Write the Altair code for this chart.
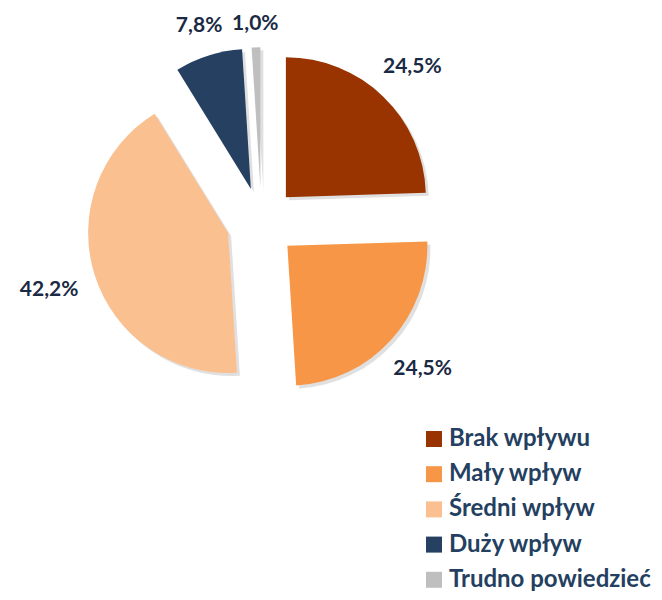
import altair as alt
import pandas as pd

categories = ["Brak wpływu", "Mały wpływ", "Średni wpływ", "Duży wpływ", "Trudno powiedzieć"]
values = [24.5, 24.5, 42.2, 7.8, 1.0]
colors = ["#993300", "#f79646", "#fac090", "#254061", "#bfbfbf"]

df = pd.DataFrame({"category": categories, "value": values, "order": list(range(len(values)))})

CX, CY = 253.5, 214.3   # pie centre (px, inside plot area)
R = 140                 # pie radius
D = 35                  # explosion distance
LR = 193                # label clearance radius
HW, HH = 30, 4          # half width / height allowance of a label box

base = alt.Chart(df).transform_window(
    cum="sum(value)", sort=[alt.SortField("order")], frame=[None, 0]
).transform_joinaggregate(
    total="sum(value)"
).transform_calculate(
    a0="(datum.cum - datum.value) / datum.total * 2 * PI",
    a1="datum.cum / datum.total * 2 * PI",
).transform_calculate(
    mid="(datum.a0 + datum.a1) / 2"
).transform_calculate(
    lr=f"{LR} + abs(sin(datum.mid)) * {HW} + abs(cos(datum.mid)) * {HH}"
).transform_calculate(
    cx=f"{CX} + {D} * sin(datum.mid)",
    cy=f"{CY} - {D} * cos(datum.mid)",
    sx=f"{CX} + {D} * sin(datum.mid) + 3",
    sy=f"{CY} - {D} * cos(datum.mid) + 3",
    lx=f"{CX} + datum.lr * sin(datum.mid)",
    ly=f"{CY} - datum.lr * cos(datum.mid)",
    label="replace(format(datum.value, '.1f'), '.', ',') + '%'",
)

shadow = base.mark_arc(radius=R, color="#000000", opacity=0.12).encode(
    x=alt.X("sx:Q", scale=None, axis=None),
    y=alt.Y("sy:Q", scale=None, axis=None),
    theta=alt.Theta("a0:Q", scale=None, stack=None),
    theta2="a1:Q",
)

arcs = base.mark_arc(radius=R).encode(
    x=alt.X("cx:Q", scale=None, axis=None),
    y=alt.Y("cy:Q", scale=None, axis=None),
    theta=alt.Theta("a0:Q", scale=None, stack=None),
    theta2="a1:Q",
    color=alt.Color(
        "category:N",
        scale=alt.Scale(domain=categories, range=colors),
        legend=alt.Legend(
            title=None,
            orient="none",
            legendX=414,
            legendY=419,
            symbolType="square",
            symbolSize=256,
            symbolStrokeWidth=0,
            labelFont="Lato",
            labelFontWeight="bold",
            labelFontSize=24,
            labelColor="#243f60",
            rowPadding=11.2,
            labelOffset=3,
            labelLimit=300,
        ),
    ),
    order=alt.Order("order:Q"),
)

labels = base.mark_text(font="Lato", fontWeight="bold", fontSize=21, color="#1b2a44").encode(
    x=alt.X("lx:Q", scale=None, axis=None),
    y=alt.Y("ly:Q", scale=None, axis=None),
    text="label:N",
)

chart = alt.layer(shadow, arcs, labels).properties(
    width=646, height=584, autosize=alt.AutoSizeParams(type="none"), padding=0
).configure_view(stroke=None)

chart.save("out.html", embed_options={"renderer": "svg", "actions": False})
